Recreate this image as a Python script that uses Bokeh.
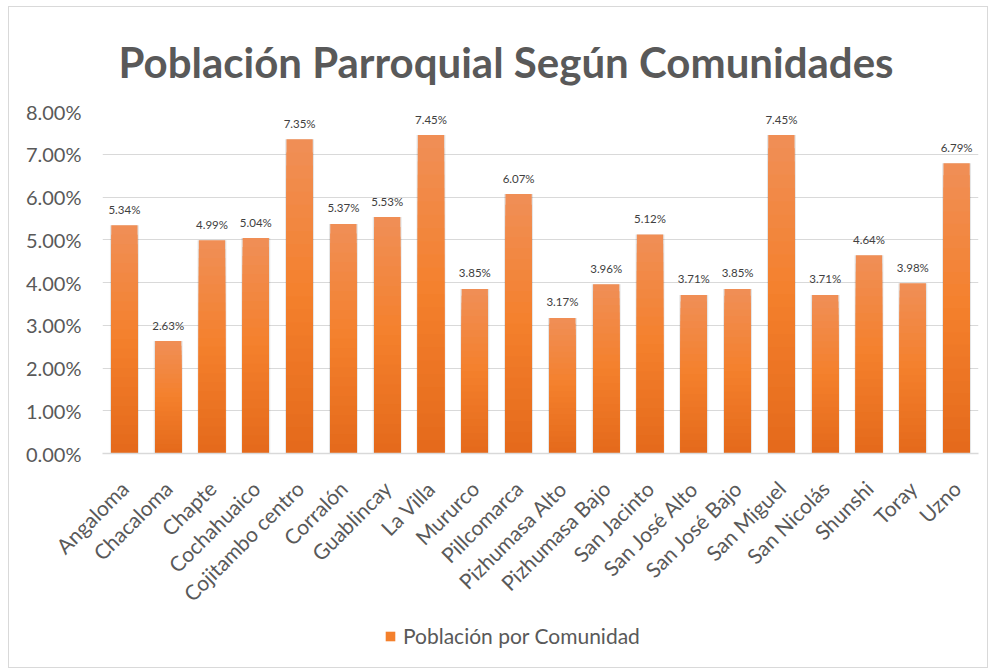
from bokeh.plotting import figure
from bokeh.layouts import column
from bokeh.models import (FactorRange, Range1d, FixedTicker, PrintfTickFormatter,
                          Legend, LegendItem, ColumnDataSource)
from bokeh.core.properties import value
from bokeh.embed import file_html
from bokeh.resources import INLINE
from math import pi

comunidades = ["Angaloma", "Chacaloma", "Chapte", "Cochahuaico", "Cojitambo centro",
               "Corralón", "Guablincay", "La Villa", "Mururco", "Pillcomarca",
               "Pizhumasa Alto", "Pizhumasa Bajo", "San Jacinto", "San José Alto",
               "San José Bajo", "San Miguel", "San Nicolás", "Shunshi", "Toray", "Uzno"]
poblacion = [5.34, 2.63, 4.99, 5.04, 7.35, 5.37, 5.53, 7.45, 3.85, 6.07,
             3.17, 3.96, 5.12, 3.71, 3.85, 7.45, 3.71, 4.64, 3.98, 6.79]
y_ticks = [0, 1, 2, 3, 4, 5, 6, 7, 8]
titulo = "Población Parroquial Según Comunidades"
serie = "Población por Comunidad"

FONT = "Lato"
GREY = "#595959"

p = figure(x_range=FactorRange(*comunidades, range_padding=0),
           y_range=Range1d(0, 8),
           width=978, height=611, output_backend="svg", toolbar_location=None,
           min_border_left=93, min_border_right=9, min_border_bottom=165,
           min_border_top=104)
p.outline_line_color = None
p.background_fill_color = "white"
p.border_fill_color = "white"

p.title.text = titulo
p.title.align = "left"
p.title.offset = 16
p.title.vertical_align = "middle"
p.title.text_font = FONT
p.title.text_font_style = "bold"
p.title.text_font_size = "42px"
p.title.text_color = GREY
p.title.standoff = 47

src = ColumnDataSource(dict(x=comunidades, y=poblacion,
                            lab=["%.2f%%" % v for v in poblacion]))

# shadow
p.vbar(x="x", top="y", width=0.66, source=src, fill_color="black", fill_alpha=0.10,
       line_color=None)

# gradient bar layers
stops = [(0.0, (0xF0, 0x8F, 0x57)), (0.5, (0xF4, 0x80, 0x2C)), (1.0, (0xE4, 0x69, 0x1B))]

def grad(t):
    for (t0, c0), (t1, c1) in zip(stops[:-1], stops[1:]):
        if t0 <= t <= t1:
            f = (t - t0) / (t1 - t0)
            c = tuple(int(round(a + (b - a) * f)) for a, b in zip(c0, c1))
            return "#%02x%02x%02x" % c
    return "#%02x%02x%02x" % stops[-1][1]

N = 24
for k in range(N):
    frac = 1 - k / N
    tops = [v * frac for v in poblacion]
    col = grad((k + 0.5) / N)
    p.vbar(x=comunidades, top=tops, width=0.6, fill_color=col, line_color=None)

p.text(x="x", y="y", text="lab", source=src, y_offset=-16,
       text_align="center", text_baseline="middle",
       text_font=value(FONT), text_font_size="11.5px", text_color="#404040")

# axes
p.yaxis.ticker = FixedTicker(ticks=y_ticks)
p.yaxis.formatter = PrintfTickFormatter(format="%.2f%%")
p.yaxis.axis_line_color = None
p.yaxis.major_tick_line_color = None
p.yaxis.minor_tick_line_color = None
p.yaxis.major_tick_out = 0
p.yaxis.major_tick_in = 0
p.yaxis.major_label_text_font = FONT
p.yaxis.major_label_text_font_size = "20px"
p.yaxis.major_label_text_color = GREY
p.yaxis.major_label_standoff = 21

p.xaxis.axis_line_color = "#D9D9D9"
p.xaxis.axis_line_width = 1.5
p.xaxis.major_tick_line_color = None
p.xaxis.minor_tick_line_color = None
p.xaxis.major_tick_out = 0
p.xaxis.major_tick_in = 0
p.xaxis.major_label_orientation = pi / 4
p.xaxis.major_label_text_font = FONT
p.xaxis.major_label_text_font_size = "21px"
p.xaxis.major_label_text_color = GREY
p.xaxis.major_label_standoff = 31

p.xgrid.grid_line_color = None
p.ygrid.grid_line_color = "#D9D9D9"
p.ygrid.grid_line_width = 1

# legend strip (same scales, its bars hidden; only the legend swatch shows)
pl = figure(x_range=FactorRange(*comunidades, range_padding=0), y_range=Range1d(0, 8),
            width=978, height=49, output_backend="svg", toolbar_location=None,
            x_axis_location=None, y_axis_location=None,
            min_border_left=0, min_border_right=0, min_border_top=0, min_border_bottom=0)
pl.outline_line_color = None
pl.xgrid.grid_line_color = None
pl.ygrid.grid_line_color = None
sw = pl.vbar(x=comunidades, top=poblacion, width=0.6, fill_color=grad(0.5),
             line_color=None, visible=False)
legend = Legend(items=[LegendItem(label=serie, renderers=[sw])],
                location=(282, 19), orientation="horizontal",
                glyph_width=12, glyph_height=12, label_standoff=7,
                label_text_font=FONT, label_text_font_size="21px",
                label_text_color=GREY, padding=0, margin=0,
                inactive_fill_alpha=0,
                border_line_color=None, background_fill_alpha=0)
pl.add_layout(legend, "center")

layout = column(p, pl, spacing=0)
layout.styles = {"border": "1px solid #D9D9D9", "margin-left": "8px", "margin-top": "6px"}

open("out.html", "w").write(file_html(layout, INLINE))
